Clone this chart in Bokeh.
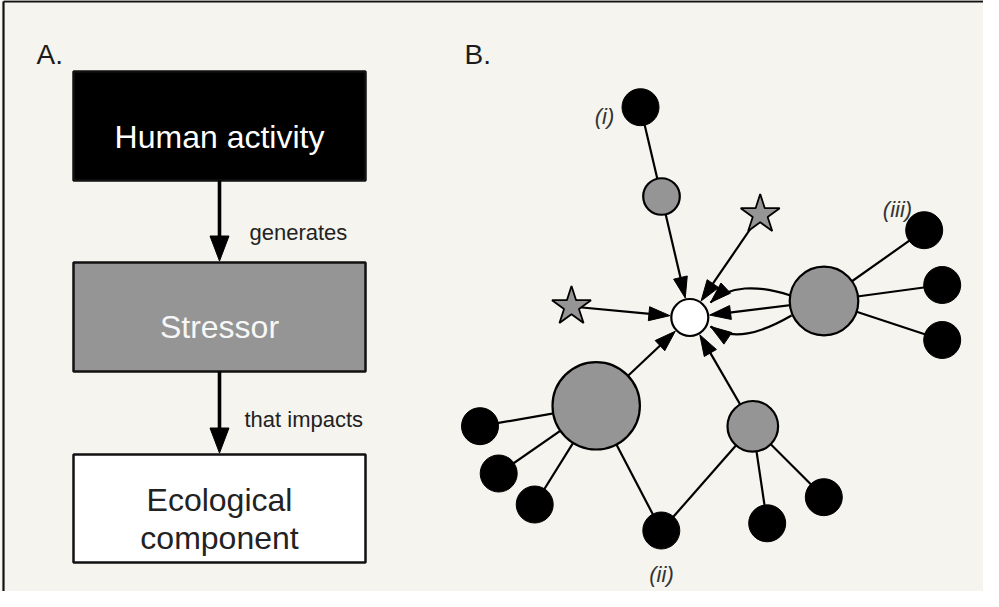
import numpy as np
from bokeh.plotting import figure
from bokeh.models import Range1d
from bokeh.core.properties import value
from bokeh.embed import file_html
from bokeh.resources import INLINE

BG = "#f5f4ee"
GRAY = "#959595"
INK = "#111111"
FONT = "Liberation Sans"

# ---------------- Panel A: flow chart ----------------
box_left = [81, 81, 81]
box_right = [373, 373, 373]
box_top = [79, 270, 462]
box_bottom = [188, 379, 570]
box_fill = ["#000000", GRAY, "#ffffff"]

box_text = ["Human activity", "Stressor", "Ecological", "component"]
box_text_x = [227, 227, 227, 227]
box_text_y = [144, 334, 507, 545]
box_text_color = ["#ffffff", "#f7f7f7", "#222222", "#222222"]

link_text = ["generates", "that impacts"]
link_text_x = [257, 252]
link_text_y = [240, 427]
link_from = [0, 1]
link_to = [1, 2]

panel_text = ["A.", "B."]
panel_text_x = [44, 472]
panel_text_y = [62, 62]

# ---------------- Panel B: network ----------------
node_name = ["C", "G1", "G2", "G3", "G4", "Bi", "Biii1", "Biii2", "Biii3",
             "Ba", "Bb", "Bc", "Bd", "Be", "Bf"]
node_x = [697.3, 669.0, 831.5, 603.7, 760.3, 648.0, 931.7, 949.7, 949.7,
          487.5, 506.2, 542.2, 668.8, 774.7, 831.3]
node_y = [325.0, 204.0, 308.5, 413.3, 433.8, 114.7, 237.7, 292.5, 347.5,
          433.7, 481.0, 512.0, 538.0, 530.8, 504.7]
node_r = [18.5, 18.3, 34.3, 43.7, 25.3, 18.5, 18.5, 18.5, 18.5,
          18.5, 18.5, 18.5, 18.5, 18.5, 18.5]
node_kind = ["focal", "gray", "gray", "gray", "gray", "black", "black", "black", "black",
             "black", "black", "black", "black", "black", "black"]

star_name = ["S1", "S2"]
star_x = [579.0, 767.7]
star_y = [314.0, 222.0]

plain_edges = [("Bi", "G1"), ("G2", "Biii1"), ("G2", "Biii2"), ("G2", "Biii3"),
               ("G3", "Ba"), ("G3", "Bb"), ("G3", "Bc"), ("G3", "Bd"),
               ("G4", "Bd"), ("G4", "Be"), ("G4", "Bf")]
arrow_edges = [("G1", "C"), ("S2", "C"), ("S1", "C"), ("G2", "C"), ("G3", "C"), ("G4", "C")]

# curved arrows (cubic Bezier): start, control 1, control 2, tip
curve_x0 = [798.0, 799.0]
curve_y0 = [303.0, 323.0]
curve_cx0 = [765.0, 768.0]
curve_cy0 = [292.0, 341.0]
curve_cx1 = [736.0, 740.0]
curve_cy1 = [293.0, 349.0]
curve_x1 = [718.0, 718.0]
curve_y1 = [310.0, 334.0]

label_text = ["(i)", "(ii)", "(iii)"]
label_x = [612, 669, 905]
label_y = [124, 582, 217]

# ---------------- figure ----------------
W, H = 983, 591
p = figure(width=W, height=H, x_range=Range1d(8, 8 + W), y_range=Range1d(8 + H, 8),
           output_backend="svg", toolbar_location=None, min_border=0,
           background_fill_color=BG, border_fill_color=BG, outline_line_color=None)
p.axis.visible = False
p.grid.visible = False

# frame
p.line([11, 8 + W], [8.9, 8.9], line_color=INK, line_width=2.2)
p.line([11, 11], [8.9, 8 + H], line_color=INK, line_width=2.2)


def head(tx, ty, ux, uy, L, Wd):
    bx, by = tx - ux * L, ty - uy * L
    nx, ny = -uy, ux
    return ([tx, bx + nx * Wd / 2, bx - nx * Wd / 2],
            [ty, by + ny * Wd / 2, by - ny * Wd / 2], bx, by)


# panel A boxes
p.quad(left=box_left, right=box_right, top=box_top, bottom=box_bottom,
       fill_color=box_fill, line_color=INK, line_width=2.5)

# panel A arrows
hx, hy = [], []
for a, b in zip(link_from, link_to):
    cx = (box_left[b] + box_right[b]) / 2
    tx, ty = cx, box_top[b] - 1.5
    xs, ys, bx, by = head(tx, ty, 0.0, 1.0, 25, 19)
    hx.append(xs)
    hy.append(ys)
    p.line([cx, cx], [box_bottom[a], by + 2], line_color="#000000", line_width=3.6)
p.patches(hx, hy, fill_color="#000000", line_color="#000000", line_width=1)

p.text(box_text_x, box_text_y, text=box_text, text_color=box_text_color,
       text_font=value(FONT), text_font_size=value("32px"),
       text_align="center", text_baseline="alphabetic")
p.text(link_text_x, link_text_y, text=link_text, text_color="#222222",
       text_font=value(FONT), text_font_size=value("22px"),
       text_align="left", text_baseline="alphabetic")
p.text(panel_text_x, panel_text_y, text=panel_text, text_color="#1c1c1c",
       text_font=value(FONT), text_font_size=value("28px"),
       text_align="left", text_baseline="alphabetic")

# panel B network
pos = {n: (x, y, r) for n, x, y, r in zip(node_name, node_x, node_y, node_r)}
for n, x, y in zip(star_name, star_x, star_y):
    pos[n] = (x, y, 0)

ex = [[pos[a][0], pos[b][0]] for a, b in plain_edges]
ey = [[pos[a][1], pos[b][1]] for a, b in plain_edges]
p.multi_line(ex, ey, line_color="#000000", line_width=2.2)

ahx, ahy, sx, sy = [], [], [], []
for a, b in arrow_edges:
    x0, y0, _ = pos[a]
    x1, y1, r1 = pos[b]
    d = np.hypot(x1 - x0, y1 - y0)
    ux, uy = (x1 - x0) / d, (y1 - y0) / d
    xs, ys, bx, by = head(x1 - ux * (r1 + 1.5), y1 - uy * (r1 + 1.5), ux, uy, 21, 14)
    ahx.append(xs)
    ahy.append(ys)
    sx.append([x0, bx + ux])
    sy.append([y0, by + uy])
p.multi_line(sx, sy, line_color="#000000", line_width=2.2)

p.bezier(x0=curve_x0, y0=curve_y0, x1=curve_x1, y1=curve_y1,
         cx0=curve_cx0, cy0=curve_cy0, cx1=curve_cx1, cy1=curve_cy1,
         line_color="#000000", line_width=2.2)
for i in range(len(curve_x0)):
    dx, dy = curve_x1[i] - curve_cx1[i], curve_y1[i] - curve_cy1[i]
    d = np.hypot(dx, dy)
    xs, ys, _, _ = head(curve_x1[i], curve_y1[i], dx / d, dy / d, 21, 14)
    ahx.append(xs)
    ahy.append(ys)

fills = {"focal": "#ffffff", "gray": GRAY, "black": "#000000"}
p.circle(x=node_x, y=node_y, radius=node_r,
         fill_color=[fills[k] for k in node_kind],
         line_color="#000000", line_width=[1 if k == "black" else 2.2 for k in node_kind])
p.scatter(x=star_x, y=star_y, marker="star", size=41, fill_color=GRAY,
          line_color="#000000", line_width=1.8)
p.patches(ahx, ahy, fill_color="#000000", line_color="#000000", line_width=1)

p.text(label_x, label_y, text=label_text, text_color="#333333",
       text_font=value(FONT), text_font_size=value("22px"), text_font_style="italic",
       text_align="center", text_baseline="alphabetic")

html = file_html(p, INLINE)
html = html.replace("<body>", '<body style="background-color:%s;">' % BG, 1)
open("out.html", "w").write(html)
